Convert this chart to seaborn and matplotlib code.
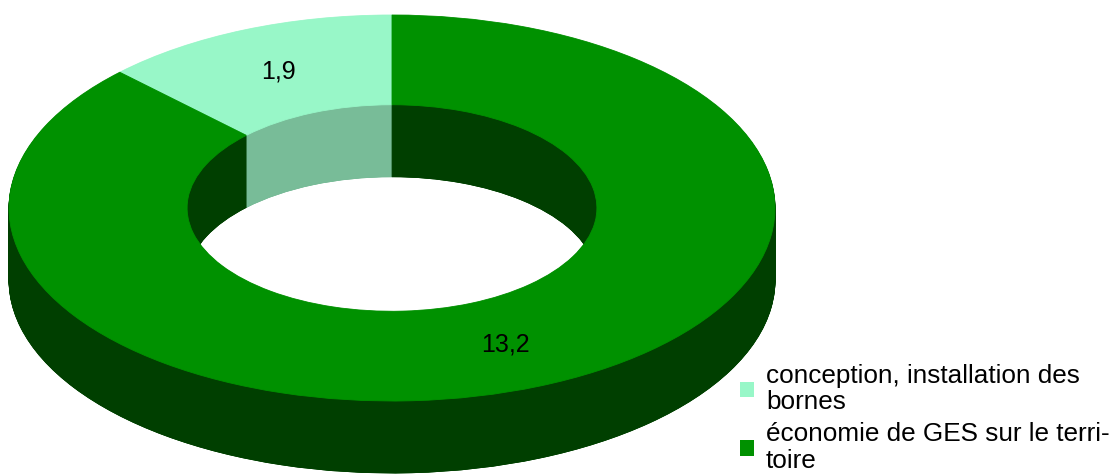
import matplotlib
matplotlib.use("Agg")
import matplotlib.pyplot as plt
from matplotlib.patches import Circle, Patch
import seaborn as sns

# ---- data ----
categories = ["conception, installation des\nbornes",
              "économie de GES sur le terri-\ntoire"]
values = [1.9, 13.2]

top_colors = ["#98f7c8", "#009100"]
outer_wall_colors = ["#6fb590", "#004a00"]
inner_wall_colors = ["#78bc98", "#003f00"]

sns.set_theme(style="white")
plt.rcParams["font.family"] = ["Liberation Sans", "DejaVu Sans"]
plt.rcParams["text.color"] = "black"

W, H = 1110, 476
fig = plt.figure(figsize=(W / 100, H / 100), dpi=100)
ax = fig.add_axes([0, 0, 1, 1])

R_IN = 0.535
RING = 1 - R_IN
DEPTH = 0.373          # extrusion depth in data units (y)
N = 72
total = sum(values)


def seal(wedges, z):
    for w in wedges:
        w.set_edgecolor(w.get_facecolor())
        w.set_linewidth(0.6)
        w.set_zorder(z)


# outer wall (stack of shifted donuts)
for k in range(N, 0, -1):
    wedges, _ = ax.pie(values, colors=outer_wall_colors, startangle=90,
                       counterclock=True, center=(0, -DEPTH * k / N),
                       wedgeprops=dict(width=RING))
    seal(wedges, 1)

# inner wall: same stack, clipped to the hole of the top face
hole = Circle((0, 0), R_IN, transform=ax.transData)
for k in range(N, 0, -1):
    wedges, _ = ax.pie(values, colors=inner_wall_colors, startangle=90,
                       counterclock=True, center=(0, -DEPTH * k / N),
                       wedgeprops=dict(width=RING))
    seal(wedges, 2)
    for w in wedges:
        w.set_clip_path(hole)

# top face
top_wedges, _, autotexts = ax.pie(
    values, colors=top_colors, startangle=90, counterclock=True,
    center=(0, 0), pctdistance=1 - RING / 2,
    autopct=lambda p: format(p * total / 100, ".1f").replace(".", ","),
    wedgeprops=dict(width=RING),
    textprops=dict(fontsize=18, color="black"))
seal(top_wedges, 3)
for t in autotexts:
    t.set_zorder(4)

# scales: x 383 px/unit, y 193 px/unit, centre at (392, 208)
cx, cy, sx, sy = 392, 208, 383, 193
ax.set_aspect("auto")
ax.set_xlim(-cx / sx, (W - cx) / sx)
ax.set_ylim(-(H - cy) / sy, cy / sy)
ax.axis("off")

handles = [Patch(facecolor=c, edgecolor="none") for c in top_colors]
leg = fig.legend(handles, categories, loc="upper left",
                 bbox_to_anchor=(740 / W, 1 - 364 / H),
                 frameon=False, fontsize=18.8, borderpad=0, borderaxespad=0,
                 handlelength=0.55, handleheight=0.55, handletextpad=0.45,
                 labelspacing=0.3, labelcolor="black")
for t in leg.get_texts():
    t.set_linespacing(1.13)

fig.savefig("out.png", dpi=100, facecolor="white")
